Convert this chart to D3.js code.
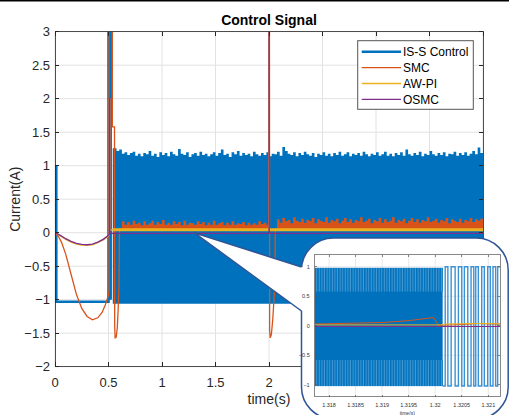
<!DOCTYPE html>
<html><head><meta charset="utf-8">
<script src="https://cdn.jsdelivr.net/npm/d3@7"></script>
<style>body{margin:0;background:#fff}svg{display:block;font-family:"Liberation Sans",Arial,sans-serif}</style>
</head><body><svg id="c" width="509" height="415"></svg>
<script>
// ---------------- data ----------------
const title = "Control Signal";
const xLabel = "time(s)";
const yLabel = "Current(A)";
const xTicks = [0, 0.5, 1, 1.5, 2, 2.5, 3, 3.5, 4];
const yTicks = [-2, -1.5, -1, -0.5, 0, 0.5, 1, 1.5, 2, 2.5, 3];
const seriesNames = ["IS-S Control", "SMC", "AW-PI", "OSMC"];

// IS-S Control: start-up segment and spike at 0.5 s
const issEarly = [[0.012, 1.0], [0.012, -1.03], [0.5, -1.03], [0.5, 3.4], [0.52, 3.4], [0.52, -1.0]];
// IS-S Control chattering envelope (upper edge), sampled every 0.025 s from 0.55 s
const issTopStart = 0.55, issTopStep = 0.025;
const issTop = [
 1.26,1.22,1.24,1.18,1.20,1.16,1.19,1.21,1.15,1.18,
 1.14,1.19,1.17,1.22,1.15,1.18,1.13,1.20,1.16,1.19,
 1.14,1.21,1.17,1.15,1.25,1.18,1.16,1.20,1.13,1.17,
 1.19,1.15,1.21,1.16,1.18,1.14,1.17,1.20,1.15,1.19,
 1.24,1.16,1.18,1.13,1.20,1.17,1.22,1.15,1.19,1.16,
 1.18,1.14,1.21,1.17,1.15,1.19,1.16,1.20,1.14,1.18,
 1.17,1.21,1.15,1.28,1.22,1.18,1.16,1.20,1.14,1.19,
 1.16,1.21,1.17,1.15,1.19,1.13,1.18,1.16,1.20,1.15,
 1.18,1.14,1.19,1.16,1.21,1.15,1.17,1.20,1.14,1.18,
 1.16,1.19,1.15,1.21,1.17,1.14,1.18,1.16,1.20,1.15,
 1.17,1.21,1.15,1.18,1.14,1.19,1.16,1.20,1.15,1.24,
 1.17,1.15,1.19,1.16,1.21,1.14,1.18,1.16,1.22,1.17,
 1.15,1.19,1.16,1.20,1.14,1.18,1.17,1.21,1.15,1.19,
 1.16,1.20,1.15,1.18,1.22,1.17,1.27,1.19,1.18];
const issBottom = -1.06;
const issBandStart = 0.54;

// SMC
const smcEarly = [[0,0],[0.03,-0.05],[0.06,-0.14],[0.1,-0.32],[0.15,-0.62],[0.2,-0.92],[0.25,-1.13],[0.3,-1.25],
 [0.35,-1.3],[0.4,-1.27],[0.44,-1.19],[0.47,-1.08],[0.5,-0.93],[0.505,-0.85],[0.505,3.4],[0.536,3.4],[0.536,1.58],
 [0.556,1.58],[0.558,-1.4],[0.562,-1.57],[0.572,-1.56],[0.582,-1.42],[0.59,-1.15],[0.598,-0.8],[0.603,0.06],[0.625,0.06]];
const smcSpike2 = [[1.975,0.06],[1.998,0.06],[1.998,3.4],[2.004,3.4],[2.006,-1.45],[2.011,-1.57],[2.022,-1.52],
 [2.035,-1.3],[2.048,-0.95],[2.056,-0.7],[2.058,0.06],[2.075,0.06]];
const smcBandBase = 0.055;
const smcBandAStart = 0.625, smcBandStep = 0.025;
const smcBandA = [
 0.17,0.12,0.16,0.12,0.18,0.13,0.15,0.11,0.17,0.12,
 0.14,0.18,0.12,0.16,0.13,0.19,0.12,0.15,0.12,0.17,
 0.13,0.16,0.11,0.18,0.12,0.15,0.14,0.12,0.17,0.13,
 0.16,0.11,0.15,0.12,0.18,0.12,0.14,0.16,0.11,0.15,
 0.12,0.17,0.12,0.14,0.13,0.16,0.11,0.15,0.12,0.14,
 0.12,0.17,0.13,0.15,0.12];
const smcBandBStart = 2.075;
const smcBandB = [
 0.20,0.15,0.22,0.17,0.19,0.14,0.23,0.18,0.16,0.21,
 0.15,0.19,0.17,0.22,0.14,0.20,0.18,0.16,0.23,0.15,
 0.19,0.17,0.21,0.14,0.18,0.22,0.16,0.20,0.15,0.19,
 0.17,0.23,0.16,0.18,0.21,0.14,0.19,0.17,0.22,0.15,
 0.20,0.16,0.18,0.23,0.15,0.19,0.17,0.21,0.14,0.18,
 0.22,0.16,0.20,0.15,0.19,0.17,0.23,0.16,0.18,0.21,
 0.15,0.19,0.17,0.22,0.14,0.20,0.18,0.16,0.21,0.15,
 0.19,0.17,0.22,0.16,0.20,0.18,0.21,0.17];

// AW-PI
const awEarly = [[0,0],[0.05,-0.05],[0.1,-0.1],[0.15,-0.14],[0.2,-0.17],[0.25,-0.185],[0.3,-0.19],[0.35,-0.18],
 [0.4,-0.15],[0.45,-0.11],[0.5,-0.05],[0.505,-0.03],[0.505,2.0],[0.515,2.0],[0.515,0.04],[0.54,0.04]];
const awBand = [[0.54,0.02,0.065],[4.0,0.02,0.065]];
const awSpike2 = [[2.0,0.04],[2.0,3.4],[2.003,3.4],[2.003,0.04]];

// OSMC
const osEarly = [[0,0],[0.05,-0.04],[0.1,-0.09],[0.15,-0.13],[0.2,-0.16],[0.25,-0.175],[0.3,-0.18],[0.35,-0.17],
 [0.4,-0.14],[0.45,-0.1],[0.5,-0.04],[0.507,-0.02],[0.507,2.0],[0.512,2.0],[0.512,-0.01],[4.0,-0.01]];
const osSpike2 = [[2.001,-0.01],[2.001,3.4],[2.002,3.4],[2.002,-0.01]];

// zoom inset
const zoomAnchor = [1.3, 0];
const insetXDomain = [1.31773, 1.32122];
const insetYDomain = [-1.2, 1.2];
const insetXTicks = [1.318, 1.3185, 1.319, 1.3195, 1.32, 1.3205, 1.321];
const insetXTickLabels = ["1.318","1.3185","1.319","1.3195","1.32","1.3205","1.321"];
const insetYTicks = [-1, -0.5, 0, 0.5, 1];
const insetDenseT = [1.31773, 1.32014];
const insetDenseRange = [-1.02, 0.98];
const insetSwitchT = [1.320188,1.320238,1.320300,1.320375,1.320437,1.320500,1.320549,1.320613,1.320675,
 1.320726,1.320763,1.320812,1.320876,1.320924,1.320988,1.321037,1.321088,1.321138,1.321176];
const insetLevels = [-1.02, 1.0];
const insetSmc = [[1.31773,0.03],[1.31797,0.034],[1.31903,0.056],[1.31953,0.09],[1.31997,0.14],[1.32006,0.01],
 [1.3205,0.02],[1.3208,0.04],[1.321,0.03],[1.32122,0.03]];
const insetAw = [[1.31773,0.015],[1.3201,0.015],[1.3202,0.03],[1.3209,0.04],[1.32122,0.035]];
const insetOs = [[1.31773,-0.012],[1.32122,-0.012]];

// ---------------- drawing ----------------
const C = {blue:"#0072BD", orange:"#D95319", yellow:"#EDB120", purple:"#7E2F8E"};
const svg = d3.select("#c");
const W = 509, H = 415;
const L = 55, R = 483, T = 31.7, B = 366.7;
const x = d3.scaleLinear([0, 4], [L, R]);
const y = d3.scaleLinear([-2, 3], [B, T]);
const axisCol = "#262626";

svg.append("rect").attr("width", W).attr("height", H).attr("fill", "#fff");
svg.append("rect").attr("x", 0).attr("y", 0).attr("width", W).attr("height", 1.5).attr("fill", "#000");

// grid
const g = svg.append("g");
g.selectAll(".gx").data(xTicks).join("line")
  .attr("x1", d => x(d)).attr("x2", d => x(d)).attr("y1", T).attr("y2", B)
  .attr("stroke", "#e2e2e2").attr("stroke-width", 1);
g.selectAll(".gy").data(yTicks).join("line")
  .attr("y1", d => y(d)).attr("y2", d => y(d)).attr("x1", L).attr("x2", R)
  .attr("stroke", "#e2e2e2").attr("stroke-width", 1);

// clip
const defs = svg.append("defs");
defs.append("clipPath").attr("id", "pc")
  .append("rect").attr("x", L).attr("y", T).attr("width", R - L).attr("height", B - T);
const p = svg.append("g").attr("clip-path", "url(#pc)");
const line = d3.line().x(d => x(d[0])).y(d => y(d[1]));

// IS-S Control
const issData = issTop.map((v, i) => ({t: i === 0 ? issBandStart : issTopStart + i * issTopStep, v}));
issData.push({t: 4.05, v: issTop[issTop.length - 1]});
p.append("path").datum(issData)
  .attr("d", d3.area().x(d => x(d.t)).y0(y(issBottom)).y1(d => y(d.v)).curve(d3.curveStepAfter))
  .attr("fill", C.blue);
p.append("path").datum(issEarly).attr("d", line).attr("fill", "none")
  .attr("stroke", C.blue).attr("stroke-width", 2.6);

// SMC
const smcA = smcBandA.map((v, i) => ({t: smcBandAStart + i * smcBandStep, v}));
smcA.push({t: 1.998, v: smcBandA[smcBandA.length - 1]});
const smcB = smcBandB.map((v, i) => ({t: smcBandBStart + i * smcBandStep, v}));
smcB.push({t: 4.05, v: smcBandB[smcBandB.length - 1]});
const smcArea = d3.area().x(d => x(d.t)).y0(y(smcBandBase)).y1(d => y(d.v)).curve(d3.curveStepAfter);
[smcA, smcB].forEach(dd => p.append("path").datum(dd).attr("d", smcArea).attr("fill", C.orange));
[smcEarly, smcSpike2].forEach(dd => p.append("path").datum(dd).attr("d", line).attr("fill", "none")
  .attr("stroke", C.orange).attr("stroke-width", 1.3));

// AW-PI
p.append("path").datum(awBand)
  .attr("d", d3.area().x(d => x(d[0])).y0(d => y(d[1])).y1(d => y(d[2])))
  .attr("fill", C.yellow);
[awEarly, awSpike2].forEach(dd => p.append("path").datum(dd).attr("d", line).attr("fill", "none")
  .attr("stroke", C.yellow).attr("stroke-width", 1.3));

// OSMC
[osEarly, osSpike2].forEach(dd => p.append("path").datum(dd).attr("d", line).attr("fill", "none")
  .attr("stroke", C.purple).attr("stroke-width", 1.4));

// axes box + ticks
const ax = svg.append("g").attr("shape-rendering", "crispEdges");
ax.append("rect").attr("x", L).attr("y", T).attr("width", R - L).attr("height", B - T)
  .attr("fill", "none").attr("stroke", axisCol).attr("stroke-width", 0.8);
const tl = 4.3;
xTicks.forEach(t => {
  ax.append("line").attr("x1", x(t)).attr("x2", x(t)).attr("y1", B).attr("y2", B - tl).attr("stroke", axisCol);
  ax.append("line").attr("x1", x(t)).attr("x2", x(t)).attr("y1", T).attr("y2", T + tl).attr("stroke", axisCol);
});
yTicks.forEach(t => {
  ax.append("line").attr("y1", y(t)).attr("y2", y(t)).attr("x1", L).attr("x2", L + tl).attr("stroke", axisCol);
  ax.append("line").attr("y1", y(t)).attr("y2", y(t)).attr("x1", R).attr("x2", R - tl).attr("stroke", axisCol);
});
svg.append("g").selectAll("text").data(xTicks).join("text")
  .attr("x", d => x(d)).attr("y", B + 20.5).attr("text-anchor", "middle")
  .attr("font-size", 13).attr("fill", axisCol).text(d => d3.format("~g")(d));
svg.append("g").selectAll("text").data(yTicks).join("text")
  .attr("x", L - 5).attr("y", d => y(d)).attr("dy", "0.35em").attr("text-anchor", "end")
  .attr("font-size", 13).attr("fill", axisCol).text(d => d3.format("~g")(d));

svg.append("text").attr("x", (L + R) / 2).attr("y", 25).attr("text-anchor", "middle")
  .attr("font-size", 14).attr("font-weight", "bold").attr("fill", "#000").text(title);
svg.append("text").attr("x", (L + R) / 2).attr("y", 404).attr("text-anchor", "middle")
  .attr("font-size", 14).attr("fill", axisCol).text(xLabel);
svg.append("text").attr("transform", `translate(20,${(T + B) / 2}) rotate(-90)`).attr("text-anchor", "middle")
  .attr("font-size", 14).attr("fill", axisCol).text(yLabel);

// ---------------- callout + inset ----------------
const bc = "#2F5597";
const boxL = 301.5, boxT = 238, boxR = 508.2, boxB = 419, rr = 32;
svg.append("rect").attr("x", boxL).attr("y", boxT).attr("width", boxR - boxL).attr("height", boxB - boxT)
  .attr("rx", rr).attr("fill", "#fff").attr("stroke", bc).attr("stroke-width", 1.5);
const ap = [x(zoomAnchor[0]), y(zoomAnchor[1])];
const c1 = [boxL, 267], c2 = [boxL, 311];
svg.append("path").attr("d", `M${ap}L${c1}L${boxL + 6},${c1[1]}L${boxL + 6},${c2[1]}L${c2}Z`)
  .attr("fill", "#fff");
svg.append("path").attr("d", `M${c1}L${ap}L${c2}`).attr("fill", "none").attr("stroke", bc).attr("stroke-width", 1.5);

const iL = 314.7, iR = 500, iT = 254.9, iB = 396.7;
const ix = d3.scaleLinear(insetXDomain, [iL, iR]);
const iy = d3.scaleLinear(insetYDomain, [iB, iT]);
const ig = svg.append("g");
ig.selectAll(".igx").data(insetXTicks).join("line")
  .attr("x1", d => ix(d)).attr("x2", d => ix(d)).attr("y1", iT).attr("y2", iB).attr("stroke", "#e2e2e2").attr("stroke-width", 0.8);
ig.selectAll(".igy").data(insetYTicks).join("line")
  .attr("y1", d => iy(d)).attr("y2", d => iy(d)).attr("x1", iL).attr("x2", iR).attr("stroke", "#e2e2e2").attr("stroke-width", 0.8);
defs.append("clipPath").attr("id", "ic")
  .append("rect").attr("x", iL).attr("y", iT).attr("width", iR - iL).attr("height", iB - iT);
const pat = defs.append("pattern").attr("id", "stripes").attr("patternUnits", "userSpaceOnUse")
  .attr("width", 2.6).attr("height", 10);
pat.append("rect").attr("width", 2.6).attr("height", 10).attr("fill", C.blue);
pat.append("rect").attr("x", 1.6).attr("width", 0.8).attr("height", 10).attr("fill", "#5aa3da");
const ip = svg.append("g").attr("clip-path", "url(#ic)");
// dense chattering block
ip.append("rect").attr("x", ix(insetDenseT[0])).attr("width", ix(insetDenseT[1]) - ix(insetDenseT[0]))
  .attr("y", iy(insetDenseRange[1])).attr("height", iy(insetDenseRange[0]) - iy(insetDenseRange[1]))
  .attr("fill", C.blue);
[[insetDenseRange[1], 0.58], [-0.58, insetDenseRange[0]]].forEach(([a, b]) =>
  ip.append("rect").attr("x", ix(insetDenseT[0])).attr("width", ix(insetDenseT[1]) - ix(insetDenseT[0]))
    .attr("y", iy(a)).attr("height", iy(b) - iy(a)).attr("fill", "url(#stripes)"));
// sparse switching
const sq = [[insetDenseT[1], insetLevels[0]]];
let lev = 0;
insetSwitchT.forEach(t => { sq.push([t, insetLevels[lev]]); lev = 1 - lev; sq.push([t, insetLevels[lev]]); });
sq.push([insetXDomain[1] + 0.0001, insetLevels[lev]]);
const iline = d3.line().x(d => ix(d[0])).y(d => iy(d[1]));
ip.append("path").datum(sq).attr("d", iline).attr("fill", "none").attr("stroke", "#3b92d4").attr("stroke-width", 1.4);
ip.append("path").datum(insetSmc).attr("d", iline).attr("fill", "none").attr("stroke", C.orange).attr("stroke-width", 1);
ip.append("path").datum(insetAw).attr("d", iline).attr("fill", "none").attr("stroke", C.yellow).attr("stroke-width", 1);
ip.append("path").datum(insetOs).attr("d", iline).attr("fill", "none").attr("stroke", C.purple).attr("stroke-width", 1);
const iax = svg.append("g").attr("shape-rendering", "crispEdges");
iax.append("rect").attr("x", iL).attr("y", iT).attr("width", iR - iL).attr("height", iB - iT)
  .attr("fill", "none").attr("stroke", "#555").attr("stroke-width", 0.7);
insetXTicks.forEach(t => {
  iax.append("line").attr("x1", ix(t)).attr("x2", ix(t)).attr("y1", iB).attr("y2", iB - 2).attr("stroke", "#555").attr("stroke-width", 0.7);
  iax.append("line").attr("x1", ix(t)).attr("x2", ix(t)).attr("y1", iT).attr("y2", iT + 2).attr("stroke", "#555").attr("stroke-width", 0.7);
});
insetYTicks.forEach(t => {
  iax.append("line").attr("y1", iy(t)).attr("y2", iy(t)).attr("x1", iL).attr("x2", iL + 2).attr("stroke", "#555").attr("stroke-width", 0.7);
  iax.append("line").attr("y1", iy(t)).attr("y2", iy(t)).attr("x1", iR).attr("x2", iR - 2).attr("stroke", "#555").attr("stroke-width", 0.7);
});
svg.append("g").selectAll("text").data(insetXTicks).join("text")
  .attr("x", d => ix(d)).attr("y", iB + 10).attr("text-anchor", "middle")
  .attr("font-size", 5.5).attr("fill", "#333").text((d, i) => insetXTickLabels[i]);
svg.append("g").selectAll("text").data(insetYTicks).join("text")
  .attr("x", iL - 5).attr("y", d => iy(d)).attr("dy", "0.35em").attr("text-anchor", "end")
  .attr("font-size", 5.5).attr("fill", "#333").text(d => d3.format("~g")(d));
svg.append("text").attr("x", (iL + iR) / 2).attr("y", 414.5).attr("text-anchor", "middle")
  .attr("font-size", 5).attr("fill", "#333").text(xLabel);

// ---------------- legend ----------------
const lg = svg.append("g");
lg.append("rect").attr("x", 357.7).attr("y", 40.7).attr("width", 115.6).attr("height", 68.6)
  .attr("fill", "#fff").attr("stroke", "#555").attr("stroke-width", 1);
const lcol = [C.blue, C.orange, C.yellow, C.purple];
const lw = [2.6, 1.3, 1.3, 1.1];
seriesNames.forEach((n, i) => {
  const yy = 51.7 + i * 15.9;
  lg.append("line").attr("x1", 361.7).attr("x2", 401).attr("y1", yy).attr("y2", yy)
    .attr("stroke", lcol[i]).attr("stroke-width", lw[i]);
  lg.append("text").attr("x", 403).attr("y", yy).attr("dy", "0.36em").attr("font-size", 12)
    .attr("fill", "#000").text(n);
});
</script></body></html>
